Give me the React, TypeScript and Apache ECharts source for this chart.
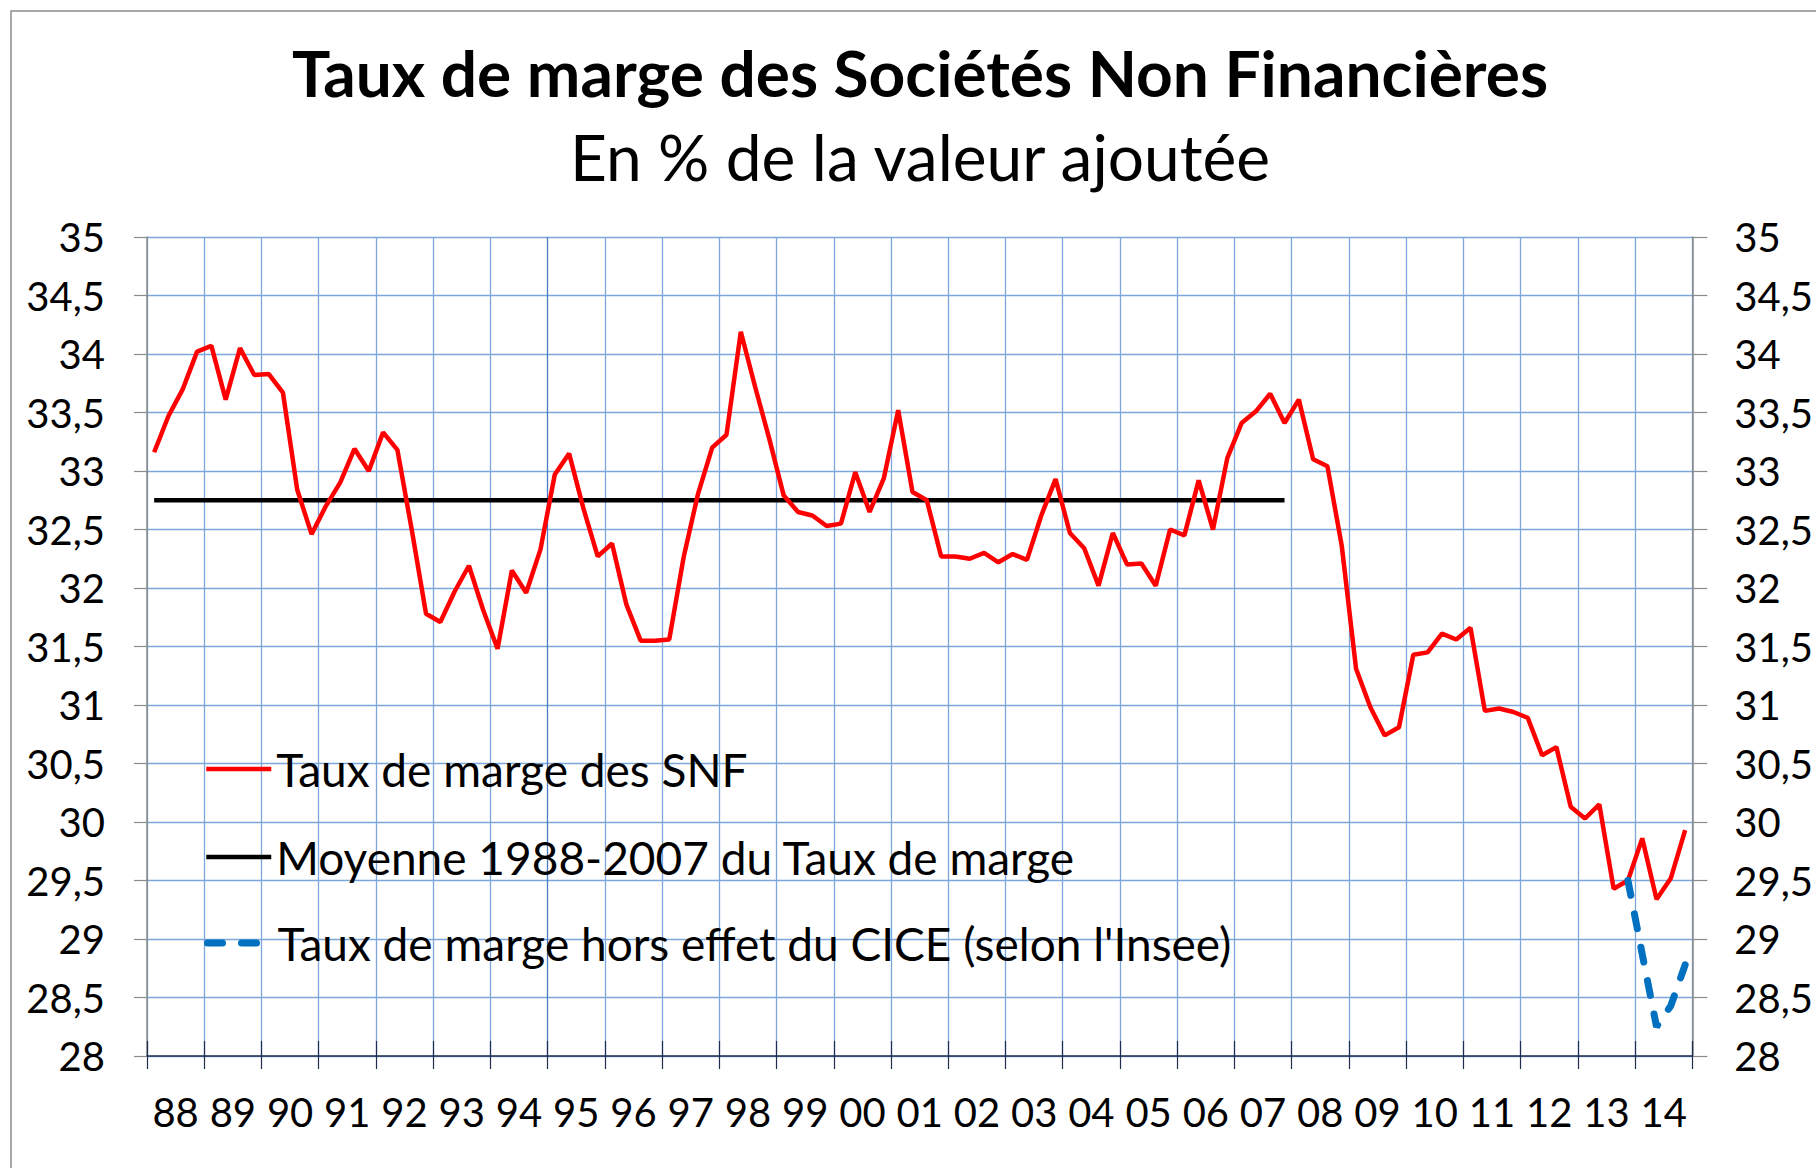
import React, { useEffect, useRef } from "react";
import * as echarts from "echarts";

// ---- Data ----
const years = [
  "88", "89", "90", "91", "92", "93", "94", "95", "96", "97", "98", "99", "00",
  "01", "02", "03", "04", "05", "06", "07", "08", "09", "10", "11", "12", "13", "14",
];
const quarterSuffixes = ["T1", "T2", "T3", "T4"];

// Taux de marge des SNF (quarterly, 1988T1 -> 2014T4)
const tauxMarge = [
  33.16, 33.47, 33.70, 34.02, // 88
  34.07, 33.61, 34.05, 33.82, // 89
  33.83, 33.67, 32.84, 32.46, // 90
  32.70, 32.90, 33.19, 33.00, // 91
  33.33, 33.18, 32.50, 31.78, // 92
  31.71, 31.97, 32.19, 31.81, // 93
  31.48, 32.15, 31.96, 32.33, // 94
  32.97, 33.15, 32.68, 32.27, // 95
  32.38, 31.86, 31.55, 31.55, // 96
  31.56, 32.26, 32.80, 33.20, // 97
  33.31, 34.19, 33.72, 33.27, // 98
  32.79, 32.65, 32.62, 32.53, // 99
  32.55, 32.99, 32.65, 32.94, // 00
  33.52, 32.82, 32.75, 32.27, // 01
  32.27, 32.25, 32.30, 32.22, // 02
  32.29, 32.24, 32.62, 32.93, // 03
  32.47, 32.34, 32.02, 32.47, // 04
  32.20, 32.21, 32.02, 32.50, // 05
  32.45, 32.92, 32.50, 33.11, // 06
  33.41, 33.51, 33.66, 33.41, // 07
  33.61, 33.10, 33.04, 32.36, // 08
  31.31, 30.98, 30.74, 30.81, // 09
  31.43, 31.45, 31.61, 31.56, // 10
  31.66, 30.95, 30.97, 30.94, // 11
  30.89, 30.57, 30.64, 30.13, // 12
  30.03, 30.15, 29.43, 29.50, // 13
  29.86, 29.34, 29.52, 29.93, // 14
];

// Moyenne 1988-2007
const moyenneValue = 32.75;
const moyennePeriod = ["88T1", "07T4"];

// Taux de marge hors effet du CICE (selon l'Insee)
const ciceQuarters = ["13T4", "14T1", "14T2", "14T3", "14T4"];
const ciceValues = [29.5, 28.87, 28.25, 28.43, 28.78];

const yMin = 28;
const yMax = 35;
const yStep = 0.5;

const seriesNames = [
  "Taux de marge des SNF",
  "Moyenne 1988-2007 du Taux de marge",
  "Taux de marge hors effet du CICE (selon l'Insee)",
];

const titleText = "Taux de marge des Sociétés Non Financières";
const subtitleText = "En % de la valeur ajoutée";

export default function App() {
  const ref = useRef<HTMLDivElement>(null);

  useEffect(() => {
    document.body.style.margin = "0";
    document.body.style.overflow = "hidden";
    const chart = echarts.init(ref.current as HTMLDivElement, null, { renderer: "svg" });

    const FONT = "Lato, 'Open Sans', sans-serif";
    const quarters = years.flatMap((y) => quarterSuffixes.map((q) => y + q));
    const mStart = quarters.indexOf(moyennePeriod[0]);
    const mEnd = quarters.indexOf(moyennePeriod[1]);
    const moyenneData = quarters.slice(mStart, mEnd + 1).map((q) => [q, moyenneValue]);
    const ciceData = ciceQuarters.map((q, i) => [q, ciceValues[i]]);

    const gridBlue = "#7DA6DC";
    const darkBlue = "#4A7CC6";
    const splitColors = years.map((_, i) => (i === 7 ? darkBlue : gridBlue));
    splitColors.push(gridBlue);

    const fmt = (v: number) => String(v).replace(".", ",");
    const dash = [15, 19];

    const legendRow = (name: string, top: number, lineStyle: any) => ({
      data: [name],
      left: 204,
      top,
      orient: "horizontal",
      padding: 0,
      itemGap: 0,
      itemWidth: 65,
      itemHeight: 20,
      selectedMode: false,
      itemStyle: { opacity: 0 },
      lineStyle,
      textStyle: { fontSize: 46, color: "#000", fontFamily: FONT, lineHeight: 50 },
    });

    const option: any = {
      animation: false,
      backgroundColor: "#fff",
      textStyle: { fontFamily: FONT },
      grid: { left: 147, right: 123, top: 237, bottom: 112, containLabel: false },
      graphic: [
        {
          type: "rect",
          shape: { x: 11, y: 11, width: 1830, height: 1190 },
          style: { fill: "none", stroke: "#8c8c8c", lineWidth: 1.5 },
          silent: true,
          z: -10,
        },
        {
          type: "text",
          x: 920,
          y: 72,
          style: {
            text: titleText,
            fontSize: 64,
            fontWeight: "bold",
            fontFamily: FONT,
            fill: "#000",
            textAlign: "center",
            textVerticalAlign: "middle",
          },
        },
        {
          type: "text",
          x: 920,
          y: 156,
          style: {
            text: subtitleText,
            fontSize: 64,
            fontFamily: FONT,
            fill: "#000",
            textAlign: "center",
            textVerticalAlign: "middle",
          },
        },
      ],
      legend: [
        legendRow(seriesNames[0], 744, { width: 4.5 }),
        legendRow(seriesNames[1], 832, { width: 4.5 }),
        legendRow(seriesNames[2], 918, { width: 7, type: dash, cap: "round" }),
      ],
      xAxis: [
        {
          type: "category",
          data: years,
          position: "bottom",
          boundaryGap: true,
          axisLine: { show: true, lineStyle: { color: "#1F2E4D", width: 1.5 } },
          axisTick: { show: true, interval: 0, length: 13, lineStyle: { color: "#1F2E4D", width: 1.2 } },
          axisLabel: { interval: 0, fontSize: 40, color: "#000", margin: 36, fontFamily: FONT },
          splitLine: { show: true, interval: 0, lineStyle: { color: splitColors, width: 1.3 } },
        },
        {
          type: "category",
          data: years,
          position: "bottom",
          boundaryGap: true,
          axisLine: { show: false },
          axisTick: { show: true, inside: true, interval: 0, length: 15, lineStyle: { color: "#1F2E4D", width: 1.2 } },
          axisLabel: { show: false },
          splitLine: { show: false },
        },
        {
          type: "category",
          data: quarters,
          position: "top",
          boundaryGap: true,
          show: false,
        },
      ],
      yAxis: [
        {
          type: "value",
          min: yMin,
          max: yMax,
          interval: yStep,
          position: "left",
          axisLine: { show: true, lineStyle: { color: "#8a8a8a", width: 1.5 } },
          axisTick: { show: true, length: 13, lineStyle: { color: "#8a8a8a", width: 1.2 } },
          axisLabel: { fontSize: 40, color: "#000", margin: 42, formatter: fmt, fontFamily: FONT },
          splitLine: { show: true, lineStyle: { color: gridBlue, width: 1.3 } },
        },
        {
          type: "value",
          min: yMin,
          max: yMax,
          interval: yStep,
          position: "right",
          axisLine: { show: true, lineStyle: { color: "#8a8a8a", width: 1.5 } },
          axisTick: { show: true, length: 15, lineStyle: { color: "#8a8a8a", width: 1.2 } },
          axisLabel: { fontSize: 40, color: "#000", margin: 42, formatter: fmt, fontFamily: FONT },
          splitLine: { show: false },
        },
      ],
      series: [
        {
          name: seriesNames[0],
          type: "line",
          xAxisIndex: 2,
          yAxisIndex: 0,
          data: tauxMarge,
          symbol: "none",
          lineStyle: { color: "#FF0000", width: 4.5 },
          itemStyle: { color: "#FF0000" },
          z: 3,
        },
        {
          name: seriesNames[1],
          type: "line",
          xAxisIndex: 2,
          yAxisIndex: 0,
          data: moyenneData,
          symbol: "none",
          lineStyle: { color: "#000000", width: 4.5 },
          itemStyle: { color: "#000000" },
          z: 2,
        },
        {
          name: seriesNames[2],
          type: "line",
          xAxisIndex: 2,
          yAxisIndex: 0,
          data: ciceData,
          symbol: "none",
          lineStyle: { color: "#0070C0", width: 7, type: dash, cap: "round" },
          itemStyle: { color: "#0070C0" },
          z: 4,
        },
      ],
    };

    chart.setOption(option);
    return () => chart.dispose();
  }, []);

  return <div ref={ref} style={{ width: 1816, height: 1168 }} />;
}
